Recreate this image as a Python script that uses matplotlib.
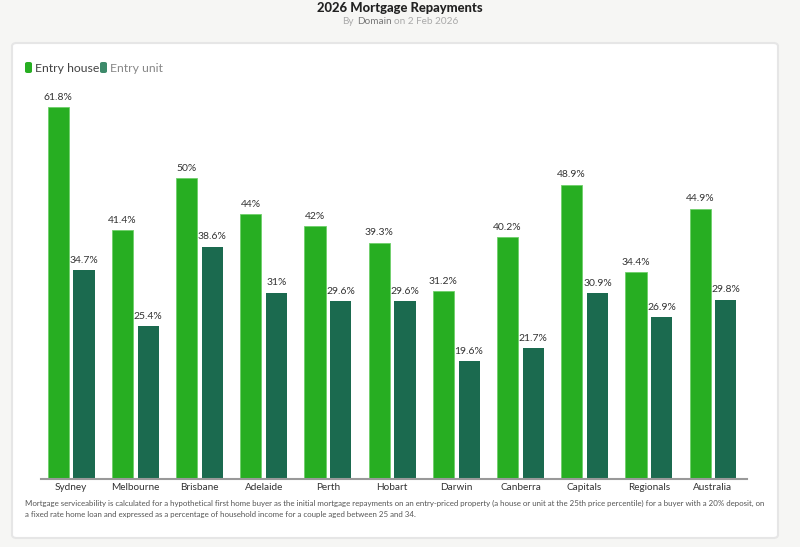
import matplotlib.pyplot as plt
import numpy as np
from matplotlib.patches import FancyBboxPatch

plt.rcParams['font.family'] = ['Lato', 'DejaVu Sans']

# data
cities = ['Sydney', 'Melbourne', 'Brisbane', 'Adelaide', 'Perth', 'Hobart',
          'Darwin', 'Canberra', 'Capitals', 'Regionals', 'Australia']
entry_house = [61.8, 41.4, 50, 44, 42, 39.3, 31.2, 40.2, 48.9, 34.4, 44.9]
entry_unit = [34.7, 25.4, 38.6, 31, 29.6, 29.6, 19.6, 21.7, 30.9, 26.9, 29.8]

HOUSE_COLOR = '#27ae22'
UNIT_COLOR = '#1b6a4f'

fig = plt.figure(figsize=(8, 5.47), dpi=100)
fig.patch.set_facecolor('#f6f6f4')

# card background
card = FancyBboxPatch((12 / 800, 1 - 538 / 547), 766 / 800, 495 / 547,
                      boxstyle='round,pad=0,rounding_size=0.006',
                      transform=fig.transFigure, facecolor='white',
                      edgecolor='#e6e6e6', linewidth=1.5, zorder=-10)
fig.patches.append(card)

ax = fig.add_axes([41 / 800, 1 - 479 / 547, 706 / 800, (479 - 88) / 547])
ax.set_facecolor('none')
ax.set_zorder(2)

x = np.arange(len(cities))
w = 0.33
b1 = ax.bar(x - 0.2, entry_house, w, color=HOUSE_COLOR, edgecolor='#6fd06a', linewidth=0.6)
b2 = ax.bar(x + 0.2, entry_unit, w, color=UNIT_COLOR)

for bars, vals in ((b1, entry_house), (b2, entry_unit)):
    for r, v in zip(bars, vals):
        ax.text(r.get_x() + r.get_width() / 2, v + 0.9, f'{v:g}%', ha='center',
                va='bottom', fontsize=7.5, color='#333333')

ax.set_xlim(-0.47, 10.53)
ax.set_ylim(0, 65)
ax.set_xticks(x)
ax.set_xticklabels(cities, fontsize=7.2, color='#333333')
ax.tick_params(axis='x', length=0, pad=3)
ax.set_yticks([])
for s in ['top', 'right', 'left']:
    ax.spines[s].set_visible(False)
ax.spines['bottom'].set_color('#999999')
ax.spines['bottom'].set_linewidth(1.5)

# legend
fig.patches.append(FancyBboxPatch((25 / 800, 1 - 73 / 547), 7 / 800, 11 / 547,
                                  boxstyle='round,pad=0,rounding_size=0.003',
                                  transform=fig.transFigure, facecolor=HOUSE_COLOR,
                                  edgecolor='none'))
fig.text(35 / 800, 1 - 68 / 547, 'Entry house', fontsize=8.8, color='#444444', va='center')
fig.patches.append(FancyBboxPatch((100 / 800, 1 - 73 / 547), 7 / 800, 11 / 547,
                                  boxstyle='round,pad=0,rounding_size=0.003',
                                  transform=fig.transFigure, facecolor='#3d8a6a',
                                  edgecolor='none'))
fig.text(110 / 800, 1 - 68 / 547, 'Entry unit', fontsize=8.8, color='#888888', va='center')

# title
fig.text(0.5, 1 - 8 / 547, '2026 Mortgage Repayments', ha='center', va='center',
         fontsize=9.4, fontweight='black', color='#222222')
fig.text(354 / 800, 1 - 21 / 547, 'By', ha='right', va='center',
         fontsize=7.2, color='#aaaaaa')
fig.text(357 / 800, 1 - 21 / 547, 'Domain', ha='left', va='center',
         fontsize=7.2, color='#777777')
fig.text(394 / 800, 1 - 21 / 547, 'on 2 Feb 2026', ha='left', va='center',
         fontsize=7.2, color='#aaaaaa')

# footnote
fig.text(25 / 800, 1 - 509 / 547,
         'Mortgage serviceability is calculated for a hypothetical first home buyer as the initial '
         'mortgage repayments on an entry-priced property (a house or unit at the 25th price percentile) '
         'for a buyer with a 20% deposit, on\na fixed rate home loan and expressed as a percentage of '
         'household income for a couple aged between 25 and 34.',
         fontsize=5.7, color='#555555', va='center', linespacing=1.6)

fig.savefig('out.png', dpi=100, facecolor=fig.get_facecolor())
